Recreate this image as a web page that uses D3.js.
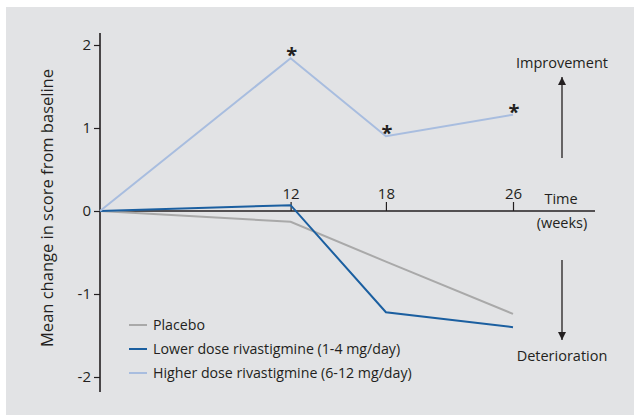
<!DOCTYPE html>
<html>
<head>
<meta charset="utf-8">
<script src="https://cdn.jsdelivr.net/npm/d3@7"></script>
<style>
  body { margin: 0; background: #fff; }
  svg text { font-family: "Open Sans", "Noto Sans", sans-serif; fill: #231f20; }
</style>
</head>
<body>
<div id="chart"></div>
<script>
// weeks on the time axis
const weeks = [0, 12, 18, 26];
const tickWeeks = [12, 18, 26];
const yTicks = [-2, -1, 0, 1, 2];

// mean change in score from baseline
const placebo = [0, -0.13, -0.61, -1.24];
const lowerDose = [0, 0.07, -1.22, -1.40];
const higherDose = [0, 1.84, 0.90, 1.16];
const starred = [12, 18, 26]; // significant points on higher dose

const series = [
    {name: "Placebo", values: placebo, color: "#a9a9a9"},
    {name: "Lower dose rivastigmine (1-4 mg/day)", values: lowerDose, color: "#1b5fa0"},
    {name: "Higher dose rivastigmine (6-12 mg/day)", values: higherDose, color: "#a8bddf"}
];

const width = 634;
const height = 415;

const svg = d3.select("#chart")
    .append("svg")
    .attr("width", width)
    .attr("height", height);

// grey panel
svg.append("rect")
    .attr("x", 6)
    .attr("y", 7)
    .attr("width", width - 6)
    .attr("height", height - 7)
    .attr("fill", "#e2e3e5");

const x = d3.scaleLinear().domain([0, 26]).range([100, 513]);
const y = d3.scaleLinear().domain([-2, 2]).range([377, 45]);

// y axis, ticks to the left (plain hyphen for negatives like the original)
const yAxis = svg.append("g")
    .attr("transform", `translate(${x(0)},0)`)
    .call(d3.axisLeft(y).tickValues(yTicks).tickSize(6).tickPadding(3).tickFormat(d => String(d)));
yAxis.select(".domain").remove();
yAxis.selectAll("line").attr("stroke", "#231f20").attr("stroke-width", 1.2);
yAxis.selectAll("text").style("font-size", "15px").attr("font-family", null);

svg.append("line")
    .attr("x1", x(0)).attr("x2", x(0))
    .attr("y1", 33).attr("y2", 392)
    .attr("stroke", "#231f20")
    .attr("stroke-width", 1.6);

// x axis at zero, ticks pointing up
const xAxis = svg.append("g")
    .attr("transform", `translate(0,${y(0)})`)
    .call(d3.axisTop(x).tickValues(tickWeeks).tickSize(9).tickPadding(3));
xAxis.select(".domain").remove();
xAxis.selectAll("line").attr("stroke", "#231f20").attr("stroke-width", 1.2);
xAxis.selectAll("text").style("font-size", "15px").attr("font-family", null);

svg.append("line")
    .attr("x1", x(0)).attr("x2", 595)
    .attr("y1", y(0)).attr("y2", y(0))
    .attr("stroke", "#231f20")
    .attr("stroke-width", 1.6);

// lines
const line = d3.line()
    .x((d, i) => x(weeks[i]))
    .y(d => y(d));

svg.append("g")
    .selectAll("path")
    .data(series)
    .enter()
    .append("path")
    .attr("d", d => line(d.values))
    .attr("fill", "none")
    .attr("stroke", d => d.color)
    .attr("stroke-width", 2);

// asterisks
svg.append("g")
    .selectAll("text")
    .data(starred)
    .enter()
    .append("text")
    .attr("x", d => x(d) + 1)
    .attr("y", d => y(higherDose[weeks.indexOf(d)]) + 4)
    .attr("text-anchor", "middle")
    .style("font-size", "20px")
    .style("font-weight", "bold")
    .text("*");

// axis titles
svg.append("text")
    .attr("transform", "translate(53,208) rotate(-90)")
    .attr("text-anchor", "middle")
    .style("font-size", "16.5px")
    .text("Mean change in score from baseline");

svg.append("text")
    .attr("x", 561).attr("y", 204)
    .attr("text-anchor", "middle")
    .style("font-size", "14.5px")
    .text("Time");

svg.append("text")
    .attr("x", 562).attr("y", 228)
    .attr("text-anchor", "middle")
    .style("font-size", "14.5px")
    .text("(weeks)");

// improvement / deterioration arrows
svg.append("defs").append("marker")
    .attr("id", "head")
    .attr("viewBox", "0 0 10 10")
    .attr("refX", 10).attr("refY", 5)
    .attr("markerWidth", 8).attr("markerHeight", 8)
    .attr("markerUnits", "userSpaceOnUse")
    .attr("orient", "auto")
    .append("path")
    .attr("d", "M0,0L10,5L0,10Z")
    .attr("fill", "#231f20");

svg.append("line")
    .attr("x1", 562).attr("x2", 562)
    .attr("y1", 158).attr("y2", 77)
    .attr("stroke", "#231f20").attr("stroke-width", 1.3)
    .attr("marker-end", "url(#head)");

svg.append("line")
    .attr("x1", 562).attr("x2", 562)
    .attr("y1", 260).attr("y2", 340)
    .attr("stroke", "#231f20").attr("stroke-width", 1.3)
    .attr("marker-end", "url(#head)");

svg.append("text")
    .attr("x", 562).attr("y", 68)
    .attr("text-anchor", "middle")
    .style("font-size", "14.5px")
    .text("Improvement");

svg.append("text")
    .attr("x", 562).attr("y", 361)
    .attr("text-anchor", "middle")
    .style("font-size", "14.5px")
    .text("Deterioration");

// legend
const legend = svg.selectAll(".legend")
    .data(series)
    .enter()
    .append("g")
    .attr("class", "legend")
    .attr("transform", (d, i) => `translate(129, ${325 + i * 24})`);

legend.append("line")
    .attr("x1", 0).attr("x2", 18)
    .attr("stroke", d => d.color)
    .attr("stroke-width", 2);

legend.append("text")
    .attr("x", 24)
    .attr("dy", "0.35em")
    .style("font-size", "14.2px")
    .text(d => d.name);
</script>
</body>
</html>
